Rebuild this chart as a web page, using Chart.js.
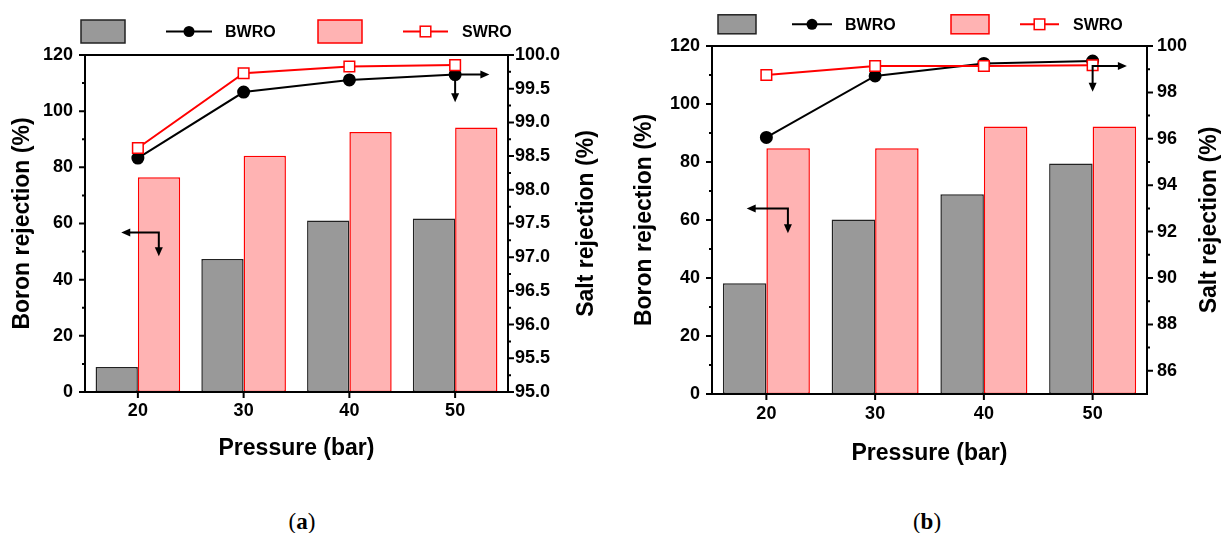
<!DOCTYPE html>
<html>
<head>
<meta charset="utf-8">
<script src="https://cdn.jsdelivr.net/npm/chart.js@4.4.0/dist/chart.umd.min.js"></script>
<style>
  body { margin: 0; background: #fff; width: 1223px; height: 533px; position: relative; overflow: hidden; }
  canvas { position: absolute; top: 0; }
  #chartA { left: 0; }
  #chartB { left: 611px; }
  .cap { position: absolute; top: 510px; line-height: 23px; font-family: "Liberation Serif", serif; font-size: 23px; transform: translateX(-50%); }
</style>
</head>
<body>
<canvas id="chartA" width="611" height="480"></canvas>
<canvas id="chartB" width="612" height="480"></canvas>
<div class="cap" style="left:302px">(<b>a</b>)</div>
<div class="cap" style="left:927px">(<b>b</b>)</div>
<script>
const pressure = [20, 30, 40, 50]

// (a)
const boronBWRO_a = [8.9, 47.4, 61.1, 61.8]
const boronSWRO_a = [76.5, 84.1, 92.6, 94.2]
const saltBWRO_a = [98.47, 99.45, 99.63, 99.71]
const saltSWRO_a = [98.62, 99.73, 99.83, 99.85]

// (b)
const boronBWRO_b = [38.2, 60.2, 68.9, 79.5]
const boronSWRO_b = [84.7, 84.7, 92.2, 92.2]
const saltBWRO_b = [96.06, 98.71, 99.25, 99.35]
const saltSWRO_b = [98.75, 99.14, 99.14, 99.17]

const boronTicks = [0, 20, 40, 60, 80, 100, 120]
const saltTicks_a = [95.0, 95.5, 96.0, 96.5, 97.0, 97.5, 98.0, 98.5, 99.0, 99.5, 100.0]
const saltTicks_b = [86, 88, 90, 92, 94, 96, 98, 100]

const GRAY = '#999999'
const PINK = '#ffb3b3'
const RED = '#ff0000'
const FONT = '"Liberation Sans", Arial, sans-serif'

Chart.defaults.font.family = FONT
Chart.defaults.color = '#000'

function pts(vals) {
    return pressure.map((p, i) => ({ x: p, y: vals[i] }))
}

function mids(arr) {
    let out = []
    for (let i = 1; i < arr.length; i++) out.push((arr[i - 1] + arr[i]) / 2)
    return out
}

function arrowHead(ctx, x, y, dx, dy) {
    const L = 9, W = 4
    ctx.beginPath()
    ctx.moveTo(x, y)
    ctx.lineTo(x - dx * L - dy * W, y - dy * L + dx * W)
    ctx.lineTo(x - dx * L + dy * W, y - dy * L - dx * W)
    ctx.closePath()
    ctx.fill()
}

// frame, ticks, arrows, legend and right title
const decor = {
    id: 'decor',
    afterDraw(chart, args, o) {
        const ctx = chart.ctx
        const { left, right, top, bottom } = chart.chartArea
        const sx = chart.scales.x, sy = chart.scales.y, sy1 = chart.scales.y1
        ctx.save()
        ctx.strokeStyle = '#000'
        ctx.fillStyle = '#000'
        ctx.lineWidth = 2
        ctx.strokeRect(left, top, right - left, bottom - top)

        ctx.beginPath()
        boronTicks.forEach(v => { const p = sy.getPixelForValue(v); ctx.moveTo(left, p); ctx.lineTo(left - 6, p) })
        mids(boronTicks).forEach(v => { const p = sy.getPixelForValue(v); ctx.moveTo(left, p); ctx.lineTo(left - 3, p) })
        o.saltTicks.forEach(v => { const p = sy1.getPixelForValue(v); ctx.moveTo(right, p); ctx.lineTo(right + 6, p) })
        mids(o.saltTicks).forEach(v => { const p = sy1.getPixelForValue(v); ctx.moveTo(right, p); ctx.lineTo(right + 3, p) })
        pressure.forEach(v => { const p = sx.getPixelForValue(v); ctx.moveTo(p, bottom); ctx.lineTo(p, bottom + 6) })
        ctx.stroke()

        // axis arrows
        o.arrows.forEach(a => {
            const ys = chart.scales[a.axis]
            const cx = sx.getPixelForValue(a.x), cy = ys.getPixelForValue(a.y)
            const hx = sx.getPixelForValue(a.hx), vy = ys.getPixelForValue(a.vy)
            const dir = hx < cx ? -1 : 1
            ctx.beginPath()
            ctx.moveTo(hx - dir * 8, cy); ctx.lineTo(cx, cy); ctx.lineTo(cx, vy - 8)
            ctx.stroke()
            arrowHead(ctx, hx, cy, dir, 0)
            arrowHead(ctx, cx, vy, 0, 1)
        })

        // legend
        const L = o.legend, cy = L.y
        ctx.lineWidth = 1.5
        ctx.fillStyle = GRAY; ctx.strokeStyle = '#222'
        ctx.fillRect(L.box1, cy - L.bh / 2, L.bw, L.bh)
        ctx.strokeRect(L.box1, cy - L.bh / 2, L.bw, L.bh)
        ctx.fillStyle = PINK; ctx.strokeStyle = RED
        ctx.fillRect(L.box2, cy - L.bh / 2, L.bw, L.bh)
        ctx.strokeRect(L.box2, cy - L.bh / 2, L.bw, L.bh)

        ctx.lineWidth = 2
        ctx.strokeStyle = '#000'
        ctx.beginPath(); ctx.moveTo(L.line1[0], cy); ctx.lineTo(L.line1[1], cy); ctx.stroke()
        ctx.fillStyle = '#000'
        ctx.beginPath(); ctx.arc((L.line1[0] + L.line1[1]) / 2, cy, 5.5, 0, Math.PI * 2); ctx.fill()

        ctx.strokeStyle = RED
        ctx.beginPath(); ctx.moveTo(L.line2[0], cy); ctx.lineTo(L.line2[1], cy); ctx.stroke()
        const mx = (L.line2[0] + L.line2[1]) / 2
        ctx.fillStyle = '#fff'
        ctx.fillRect(mx - 5.3, cy - 5.3, 10.6, 10.6)
        ctx.lineWidth = 1.5
        ctx.strokeRect(mx - 5.3, cy - 5.3, 10.6, 10.6)

        ctx.fillStyle = '#000'
        ctx.font = 'bold 16px ' + FONT
        ctx.textBaseline = 'middle'
        ctx.textAlign = 'left'
        ctx.fillText(chart.data.datasets[2].label, L.text1, cy + 1)
        ctx.fillText(chart.data.datasets[3].label, L.text2, cy + 1)

        // right axis title (reads bottom to top)
        ctx.translate(o.rightTitleX, (top + bottom) / 2)
        ctx.rotate(-Math.PI / 2)
        ctx.textAlign = 'center'
        ctx.font = 'bold 23px ' + FONT
        ctx.fillText('Salt rejection (%)', 0, 0)
        ctx.restore()
    }
}

function makeChart(id, p) {
    return new Chart(document.getElementById(id), {
        type: 'bar',
        data: {
            datasets: [
                { type: 'bar', label: 'BWRO', data: pts(p.boronBWRO), backgroundColor: GRAY, borderColor: '#222', borderWidth: 1.5, borderSkipped: false, categoryPercentage: 0.8, barPercentage: 1, yAxisID: 'y', order: 2 },
                { type: 'bar', label: 'SWRO', data: pts(p.boronSWRO), backgroundColor: PINK, borderColor: RED, borderWidth: 1.5, borderSkipped: false, categoryPercentage: 0.8, barPercentage: 1, yAxisID: 'y', order: 2 },
                { type: 'line', label: 'BWRO', data: pts(p.saltBWRO), yAxisID: 'y1', borderColor: '#000', borderWidth: 2, pointStyle: 'circle', pointRadius: 5.5, pointBackgroundColor: '#000', pointBorderColor: '#000', order: 1 },
                { type: 'line', label: 'SWRO', data: pts(p.saltSWRO), yAxisID: 'y1', borderColor: RED, borderWidth: 2, pointStyle: 'rect', pointRadius: 7.5, pointBackgroundColor: '#fff', pointBorderColor: RED, pointBorderWidth: 1.5, order: 0 }
            ]
        },
        options: {
            responsive: false,
            animation: false,
            layout: { padding: { top: p.top, left: 0, right: 0, bottom: 0 } },
            scales: {
                x: {
                    type: 'linear', min: 15, max: 55, offset: false,
                    afterBuildTicks: s => { s.ticks = pressure.map(v => ({ value: v })) },
                    afterFit: s => { s.height = p.bottomH },
                    grid: { display: false, drawTicks: false, offset: false },
                    border: { display: false },
                    ticks: { padding: p.xPad, font: { size: 18, weight: 'bold' } },
                    title: { display: true, text: 'Pressure (bar)', font: { size: 23, weight: 'bold' }, padding: { top: 0, bottom: p.xTitlePad } }
                },
                y: {
                    position: 'left', min: 0, max: 120,
                    afterBuildTicks: s => { s.ticks = boronTicks.map(v => ({ value: v })) },
                    afterFit: s => { s.width = p.leftW },
                    grid: { display: false, drawTicks: false },
                    border: { display: false },
                    ticks: { padding: 12, font: { size: 18, weight: 'bold' } },
                    title: { display: true, text: 'Boron rejection (%)', font: { size: 23, weight: 'bold' }, padding: { top: p.yTitlePad, bottom: 0 } }
                },
                y1: {
                    position: 'right', min: p.saltMin, max: 100,
                    afterBuildTicks: s => { s.ticks = p.saltTicks.map(v => ({ value: v })) },
                    afterFit: s => { s.width = p.rightW },
                    grid: { display: false, drawTicks: false },
                    border: { display: false },
                    ticks: { padding: p.rPad, font: { size: 18, weight: 'bold' }, callback: v => p.fmt(v) }
                }
            },
            plugins: {
                legend: { display: false },
                tooltip: { enabled: false },
                decor: {
                    saltTicks: p.saltTicks,
                    arrows: p.arrows,
                    legend: p.legend,
                    rightTitleX: p.rightTitleX
                }
            }
        },
        plugins: [decor]
    })
}

makeChart('chartA', {
    boronBWRO: boronBWRO_a, boronSWRO: boronSWRO_a, saltBWRO: saltBWRO_a, saltSWRO: saltSWRO_a,
    saltTicks: saltTicks_a, saltMin: 95, fmt: v => v.toFixed(1),
    top: 55, leftW: 85, rightW: 611 - 508, bottomH: 480 - 392,
    xPad: 8, xTitlePad: 18, yTitlePad: 9, rPad: 7, rightTitleX: 587,
    arrows: [
        { axis: 'y', x: 21.98, y: 56.8, hx: 18.43, vy: 48.3 },
        { axis: 'y1', x: 50, y: 99.71, hx: 53.24, vy: 99.30 }
    ],
    legend: { y: 31.5, bw: 44, bh: 23, box1: 81, box2: 318, line1: [166, 212], line2: [403, 448], text1: 225, text2: 462 }
})

makeChart('chartB', {
    boronBWRO: boronBWRO_b, boronSWRO: boronSWRO_b, saltBWRO: saltBWRO_b, saltSWRO: saltSWRO_b,
    saltTicks: saltTicks_b, saltMin: 85, fmt: v => String(v),
    top: 46, leftW: 101, rightW: 612 - 536, bottomH: 480 - 394,
    xPad: 9, xTitlePad: 13, yTitlePad: 20, rPad: 10, rightTitleX: 599,
    arrows: [
        { axis: 'y', x: 21.98, y: 64.0, hx: 18.19, vy: 55.4 },
        { axis: 'y1', x: 50, y: 99.14, hx: 53.15, vy: 98.03 }
    ],
    legend: { y: 24.3, bw: 38, bh: 19, box1: 107, box2: 340, line1: [181, 221], line2: [409, 448], text1: 234, text2: 462 }
})
</script>
</body>
</html>
